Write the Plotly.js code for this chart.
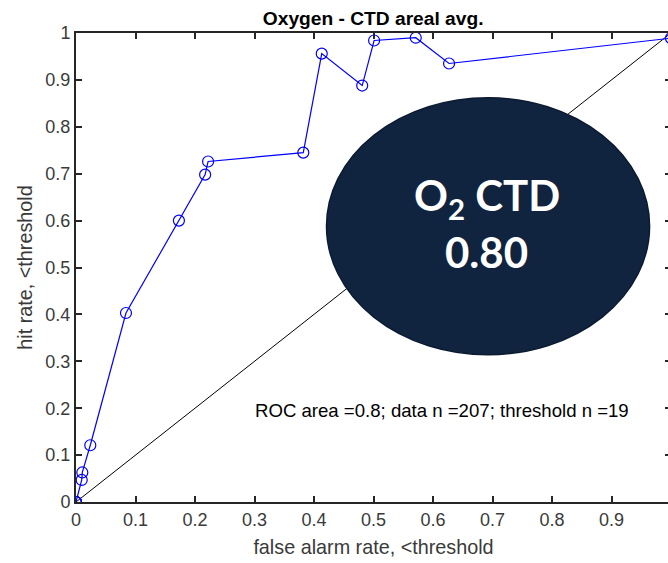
<!DOCTYPE html>
<html>
<head>
<meta charset="utf-8">
<script src="https://cdn.plot.ly/plotly-3.0.1.min.js"></script>
<style>
html,body{margin:0;padding:0;overflow:hidden;background:#fff;}
#chart{width:672px;height:563px;}
</style>
</head>
<body>
<div id="chart"></div>
<script>
// ROC curve data (false alarm rate, hit rate)
const falseAlarm = [0, 0, 0, 0, 0, 0.0096, 0.0106, 0.024, 0.084, 0.173, 0.217, 0.222, 0.382, 0.413, 0.481, 0.501, 0.571, 0.627, 1.0];
const hitRate    = [0, 0, 0, 0, 0, 0.047, 0.063, 0.121, 0.403, 0.600, 0.698, 0.726, 0.745, 0.956, 0.888, 0.984, 0.990, 0.935, 0.989];
const diagX = [0, 1];
const diagY = [0, 1];
const tickVals = [0, 0.1, 0.2, 0.3, 0.4, 0.5, 0.6, 0.7, 0.8, 0.9, 1];
const tickText = ["0", "0.1", "0.2", "0.3", "0.4", "0.5", "0.6", "0.7", "0.8", "0.9", "1"];
const titleText = "Oxygen - CTD areal avg.";
const infoText = "ROC area =0.8; data n =207; threshold n =19";
const badgeLine1 = "O<sub>2</sub> CTD";
const badgeLine2 = "0.80";

const traces = [
  {x: diagX, y: diagY, mode: 'lines', line: {color: '#000000', width: 1}, hoverinfo: 'skip'},
  {x: falseAlarm, y: hitRate, mode: 'lines+markers',
   line: {color: '#0000ff', width: 1.2},
   marker: {symbol: 'circle-open', size: 11, color: '#0000ff', line: {width: 1.2, color: '#0000ff'}}}
];

const axisCommon = {
  range: [0, 1], tickvals: tickVals, ticktext: tickText,
  showgrid: false, zeroline: false, showline: true, mirror: 'ticks',
  linecolor: '#262626', linewidth: 2, ticks: 'inside', ticklen: 6, tickwidth: 2, tickcolor: '#262626',
  tickfont: {family: 'Liberation Sans, Arial, sans-serif', size: 18, color: '#3a3a3a'}
};

const layout = {
  width: 672, height: 563,
  margin: {l: 76, r: 1, t: 33, b: 61},
  paper_bgcolor: '#ffffff', plot_bgcolor: '#ffffff',
  showlegend: false,
  title: {text: '<b>' + titleText + '</b>', x: 0.5553, xanchor: 'center', y: 0.968, yanchor: 'middle',
          font: {family: 'Liberation Sans, Arial, sans-serif', size: 19.2, color: '#000000'}},
  xaxis: Object.assign({}, axisCommon, {
    title: {text: 'false alarm rate, <threshold', standoff: 12,
            font: {family: 'Liberation Sans, Arial, sans-serif', size: 19.8, color: '#3a3a3a'}}
  }),
  yaxis: Object.assign({}, axisCommon, {
    title: {text: 'hit rate, <threshold', standoff: 7,
            font: {family: 'Liberation Sans, Arial, sans-serif', size: 19.8, color: '#3a3a3a'}}
  }),
  shapes: [{
    type: 'circle', xref: 'x', yref: 'y', layer: 'above',
    x0: 0.421, x1: 0.964, y0: 0.314, y1: 0.862,
    fillcolor: '#11243f', line: {color: '#0a1a30', width: 1.5}
  }],
  annotations: [
    {x: 0.691, y: 0.649, xref: 'x', yref: 'y', text: '<b>' + badgeLine1 + '</b>', showarrow: false,
     xanchor: 'center', yanchor: 'middle',
     font: {family: 'Lato, sans-serif', size: 42, color: '#ffffff'}},
    {x: 0.690, y: 0.532, xref: 'x', yref: 'y', text: '<b>' + badgeLine2 + '</b>', showarrow: false,
     xanchor: 'center', yanchor: 'middle',
     font: {family: 'Lato, sans-serif', size: 42, color: '#ffffff'}},
    {x: 0.615, y: 0.195, xref: 'x', yref: 'y', text: infoText, showarrow: false,
     xanchor: 'center', yanchor: 'middle',
     font: {family: 'Liberation Sans, Arial, sans-serif', size: 18.6, color: '#000000'}}
  ]
};

Plotly.newPlot('chart', traces, layout, {displayModeBar: false, staticPlot: true});
</script>
</body>
</html>
